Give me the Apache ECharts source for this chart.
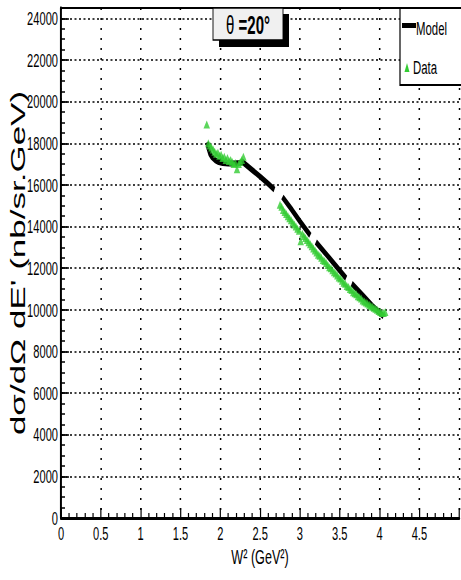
<!DOCTYPE html>
<html>
<head>
<meta charset="utf-8">
<script src="https://cdn.jsdelivr.net/npm/echarts@6/dist/echarts.min.js"></script>
<style>
html,body{margin:0;padding:0;background:#fff;overflow:hidden;width:461px;height:580px;}
#chart{width:768px;height:580px;transform:scaleX(0.6003);transform-origin:0 0;}
</style>
</head>
<body>
<div id="chart"></div>
<script>
// ---- data ----
const xTickLabels = ['0','0.5','1','1.5','2','2.5','3','3.5','4','4.5'];
const yTickLabels = ['0','2000','4000','6000','8000','10000','12000','14000','16000','18000','20000','22000','24000'];

// Model curve (W^2 in GeV^2, cross section nb/sr.GeV); null = break in curve
const modelW  = [1.835,1.85,1.87,1.90,1.94,1.98,2.03,2.10,2.18,2.25,2.28,2.40,2.50,2.60,2.68, 2.73, 2.78,2.90,3.00,3.13, 3.165, 3.20,3.35,3.45,3.58, 3.615, 3.65,3.80,3.92,4.05];
const modelXS = [18050,17750,17500,17320,17180,17100,17050,17030,17030,17060,17100,16720,16400,16060,15780, null, 15420,14800,14250,13580, null, 13260,12580,12120,11520, null, 11260,10650,10150,9680];

// Data points
const dataW = [1.83,1.85,1.87,1.89,1.91,1.93,1.95,1.97,1.99,2.01,2.03,2.05,2.07,2.09,2.11,2.13,2.15,2.17,2.19,2.21,2.23,2.25,2.27,2.29,
  2.75,2.77,2.79,2.81,2.83,2.85,2.87,2.89,2.91,2.93,2.95,2.97,2.99,3.01,3.03,3.05,3.07,3.09,3.11,3.13,3.15,3.17,3.19,3.21,3.23,3.25,3.27,3.29,
  3.31,3.33,3.35,3.37,3.39,3.41,3.43,3.45,3.47,3.49,3.51,3.53,3.55,3.57,3.59,3.61,3.63,3.65,3.67,3.69,3.71,3.73,3.75,3.77,3.79,
  3.81,3.83,3.85,3.87,3.89,3.91,3.93,3.95,3.97,3.99,4.01,4.03,4.05,4.07];
const dataXS = [18900,18000,17900,17800,17700,17600,17500,17550,17400,17450,17300,17350,17200,17300,17150,17200,17100,17000,17050,16750,17000,17100,17200,17350,
  15050,14950,14800,14700,14600,14500,14400,14300,14200,14100,14000,13900,13800,13300,13650,13550,13450,13350,13250,13150,13050,12950,12850,12750,12650,12600,12500,12400,
  12350,12250,12150,12050,12000,11900,11800,11750,11650,11550,11500,11400,11300,11250,11150,11100,11000,10950,10850,10800,10750,10650,10600,10550,10450,
  10400,10350,10300,10250,10200,10150,10100,10050,10000,9950,9900,9850,9850,9900];

const modelData = modelW.map((w,i)=>[w, modelXS[i]===null ? '-' : modelXS[i]]);
const scatterData = dataW.map((w,i)=>[w, dataXS[i]]);

// the whole drawing is compressed horizontally by CSS (factor F), so x positions are given in unscaled units
const F = 0.6003;
const X = (px)=>px/F;
const SANS = "'Liberation Sans',Arial,Helvetica,sans-serif";

const chart = echarts.init(document.getElementById('chart'), null, {renderer:'svg', width:768, height:580});
const option = {
  animation:false,
  backgroundColor:'#fff',
  grid:{left:X(61), top:8, right:X(-5), bottom:62},
  xAxis:[{
    type:'value', min:0, max:5, interval:0.5,
    axisLine:{show:true, onZero:false, lineStyle:{color:'#000', width:3}},
    axisTick:{show:true, inside:true, length:10, lineStyle:{color:'#000', width:2}},
    minorTick:{show:true, splitNumber:5, length:5, lineStyle:{color:'#000', width:2}},
    axisLabel:{color:'#000', fontFamily:SANS, fontSize:18.5, margin:6,
      formatter:(v)=>{const s=String(Math.round(v*10)/10); return xTickLabels.indexOf(s)>=0 ? s : '';}},
    splitLine:{show:true, lineStyle:{color:'#000', width:2.5, type:[2,8]}}
  },{
    type:'value', position:'top', min:0, max:5,
    axisLine:{show:true, onZero:false, lineStyle:{color:'#000', width:2}},
    axisTick:{show:false}, axisLabel:{show:false}, splitLine:{show:false}
  }],
  yAxis:[{
    type:'value', min:0, max:24500, interval:2000,
    axisLine:{show:true, onZero:false, lineStyle:{color:'#000', width:3.3}},
    axisTick:{show:true, inside:true, length:X(8), lineStyle:{color:'#000', width:1.5}},
    axisLabel:{color:'#000', fontFamily:SANS, fontSize:18.5, margin:X(3),
      formatter:(v)=>{const s=String(v); return yTickLabels.indexOf(s)>=0 ? s : '';}},
    splitLine:{show:true, lineStyle:{color:'#000', width:1.5, type:[X(2),X(2.5)]}}
  },{
    type:'value', position:'left', min:0, max:24500, interval:500,
    axisLine:{show:false}, axisLabel:{show:false}, splitLine:{show:false},
    axisTick:{show:true, inside:true, length:X(4), lineStyle:{color:'#000', width:1.5}}
  }],
  series:[{
    type:'line', name:'Model', data:modelData, showSymbol:false, symbol:'none',
    connectNulls:false, lineStyle:{color:'#000', width:6}, z:2
  },{
    type:'scatter', name:'Data', data:scatterData, symbol:'triangle', symbolSize:[X(6.5),8],
    itemStyle:{color:'#33cc33'}, z:3
  }],
  graphic:[
    // theta label box with shadow
    {type:'rect', shape:{x:X(219), y:14, width:X(70), height:33}, style:{fill:'#000'}, z:10},
    {type:'rect', shape:{x:X(213), y:8, width:X(70), height:32}, style:{fill:'#f0f0f0', stroke:'#000', lineWidth:1.5}, z:11},
    {type:'text', x:X(248), y:25, z:12,
      style:{text:'{a|θ }{b|=20°}', align:'center', verticalAlign:'middle',
        rich:{a:{fontFamily:SANS, fontSize:25, fill:'#000'}, b:{fontFamily:SANS, fontSize:25, fontWeight:'bold', fill:'#000'}}}},
    // legend box
    {type:'rect', shape:{x:X(400), y:8, width:X(70), height:77}, style:{fill:'#fff', stroke:'#000', lineWidth:2}, z:10},
    {type:'rect', shape:{x:X(402), y:23, width:X(14), height:5}, style:{fill:'#000'}, z:11},
    {type:'text', x:X(416), y:28, z:11,
      style:{text:'Model', fontFamily:SANS, fontSize:19, fill:'#000', align:'left', verticalAlign:'middle'}},
    {type:'polygon', shape:{points:[[X(404.5),72],[X(409.5),72],[X(407),63]]}, style:{fill:'#33cc33'}, z:11},
    {type:'text', x:X(413), y:67, z:11,
      style:{text:'Data', fontFamily:SANS, fontSize:19, fill:'#000', align:'left', verticalAlign:'middle'}},
    // axis titles
    {type:'text', x:X(18), y:263, rotation:Math.PI/2, z:11,
      style:{text:"dσ/dΩ dE' (nb/sr.GeV)", fontFamily:SANS, fontSize:35, fill:'#000', align:'center', verticalAlign:'middle'}},
    {type:'text', x:X(260), y:557, z:11,
      style:{text:'W² (GeV²)', fontFamily:SANS, fontSize:21, fill:'#000', align:'center', verticalAlign:'middle'}}
  ]
};
chart.setOption(option);
</script>
</body>
</html>
